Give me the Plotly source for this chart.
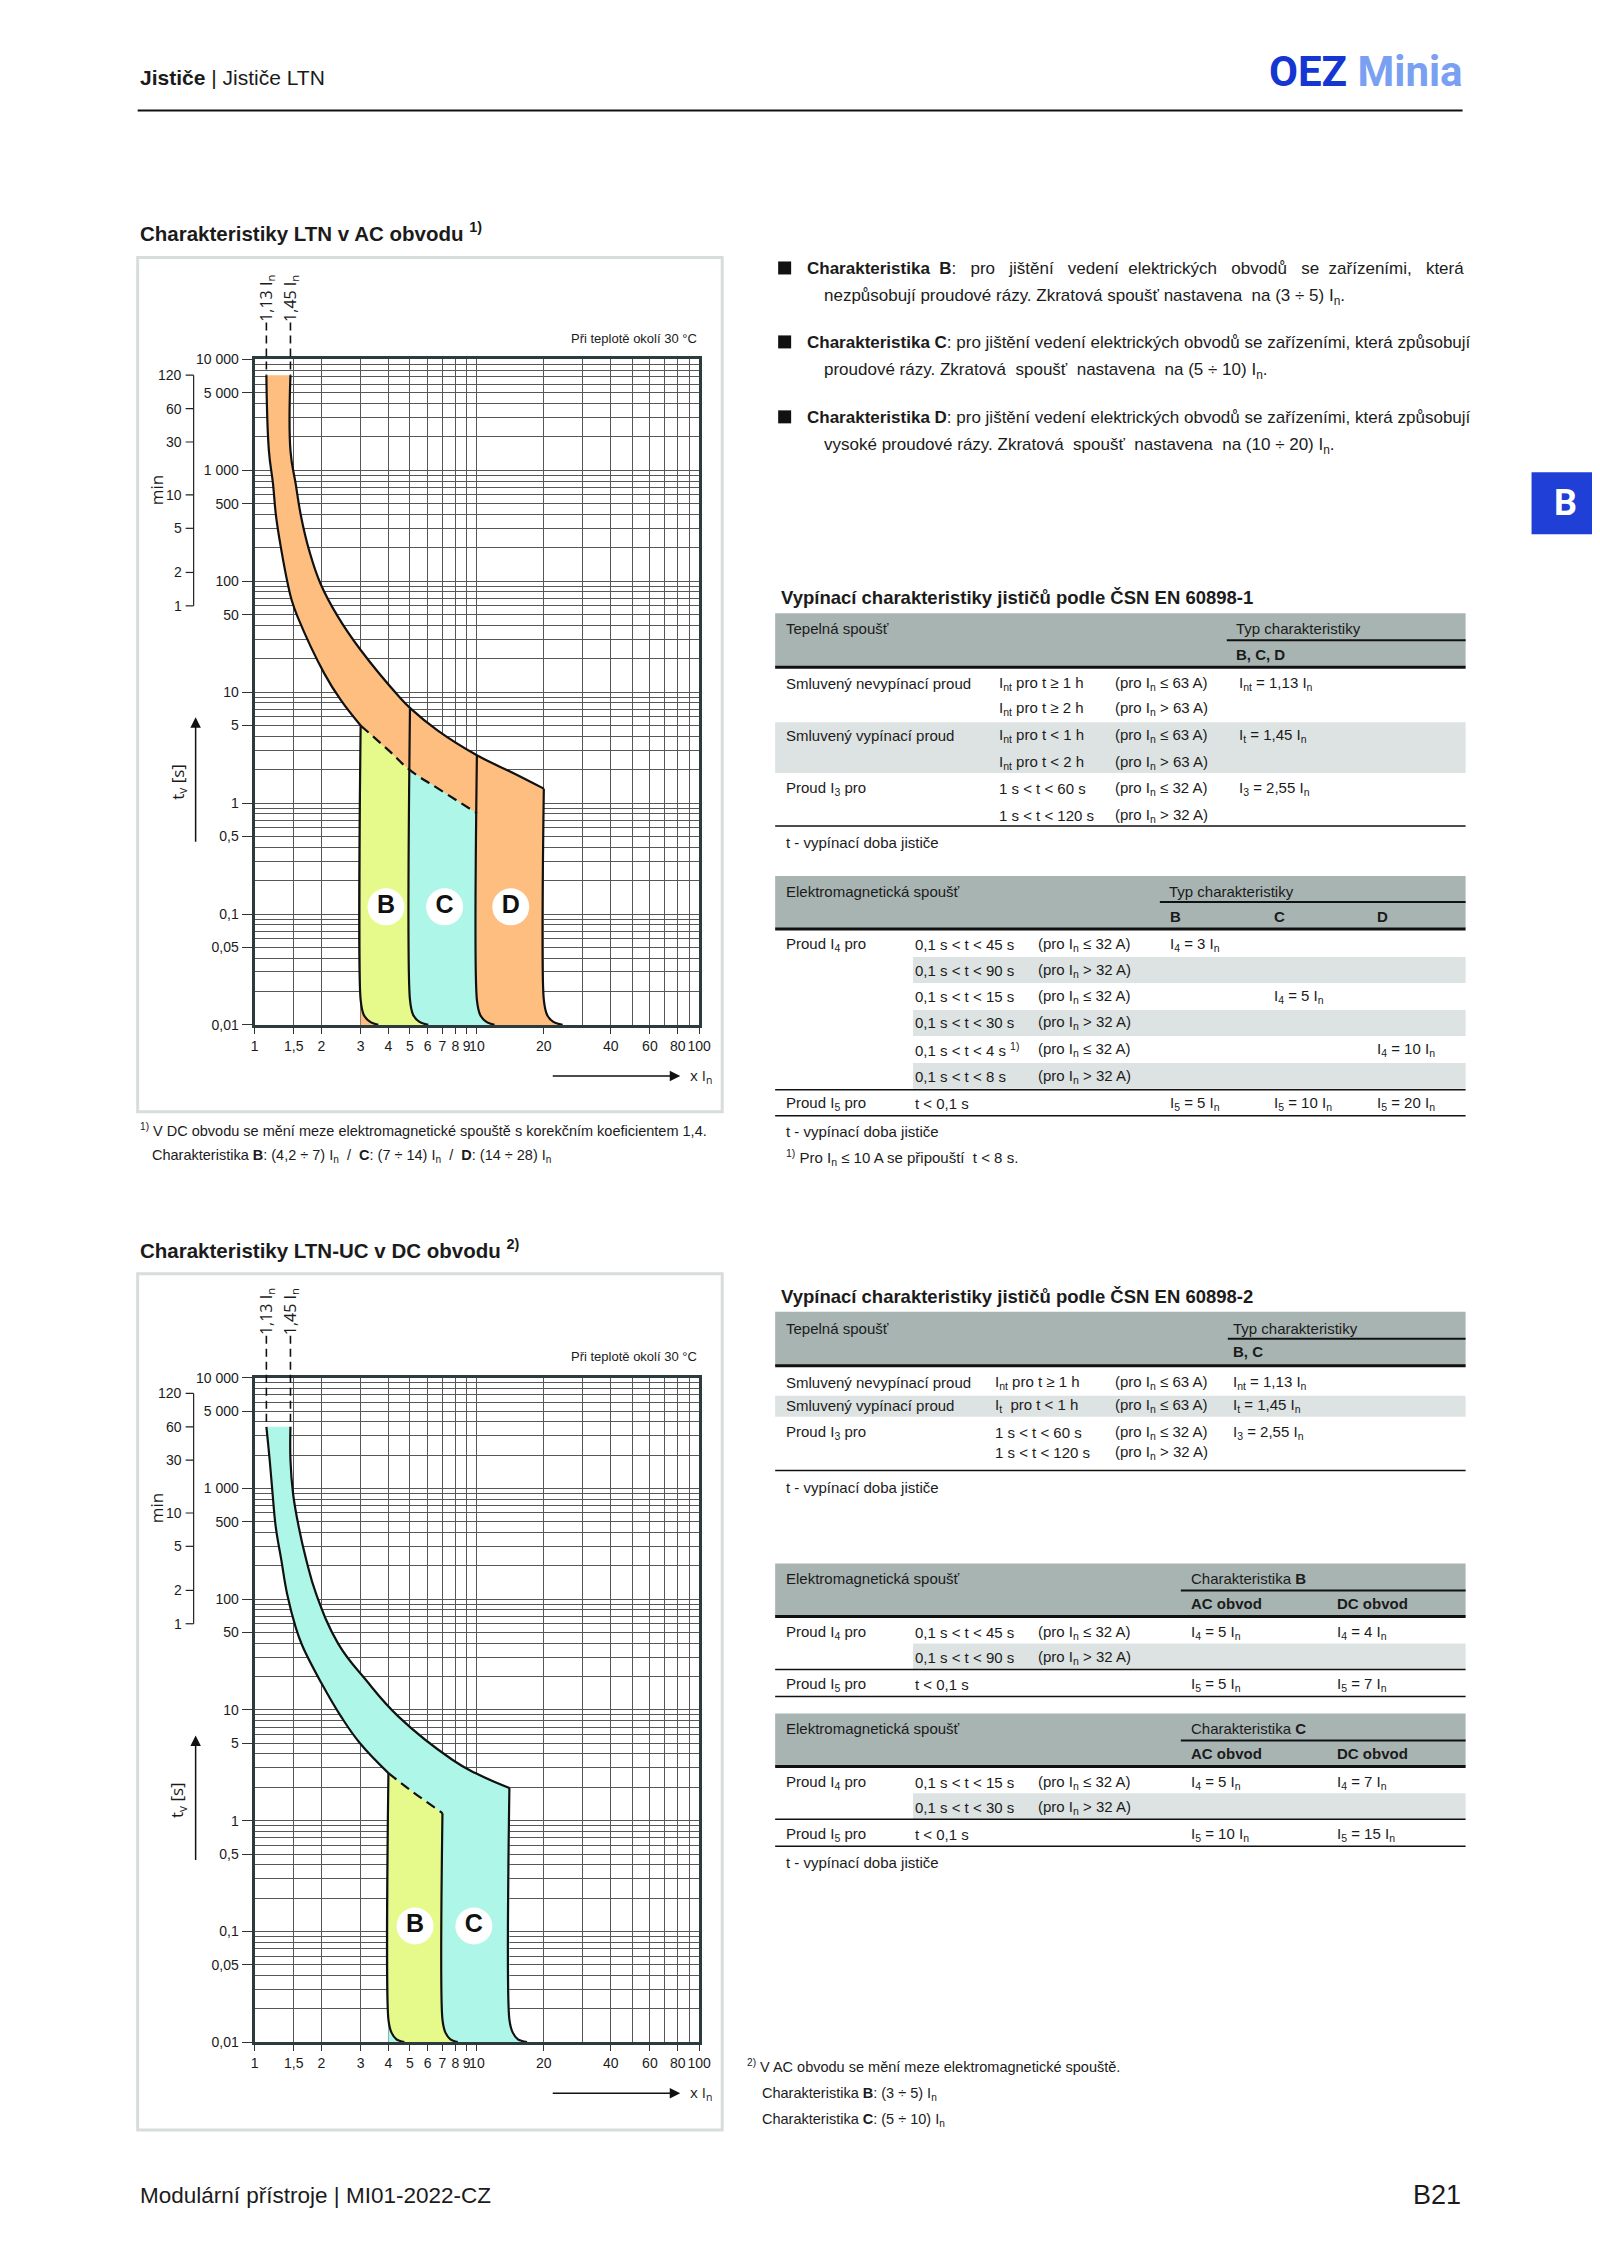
import math
import plotly.graph_objects as go

# page is 1600x2263; the browser adds an 8 px body margin, so the figure is 16 px smaller
PAGE_W, PAGE_H, OFF = 1600, 2263, 8
W, H = PAGE_W - 2 * OFF, PAGE_H - 2 * OFF
# small empirical correction of the photographed placement
SX, CX, SY, CY = 0.9907, 3.3, 0.9936, 7.4
FONT = "Liberation Sans, Arial, sans-serif"
INK = "#1b1b1b"
GRID = "#575757"
FRAME = "#2c3b3d"
ORANGE = "#FDBE80"
YELLOW = "#E6FA8C"
CYAN = "#AEF7E8"
NB = "\u00a0"

# ---------------- chart values ----------------
# x = multiple of In, t = tripping time in seconds
# AC chart
ac_low_x = [1.13, 1.16, 1.21, 1.25, 1.32, 1.41, 1.47, 1.56, 2.06, 2.44, 3.0]
ac_low_t = [7200, 1500, 760, 380, 190, 95, 67, 48, 14.7, 8.5, 5.0]
ac_dash_x = [3.0, 4.0, 5.0, 6.7, 10.0]
ac_dash_t = [5.0, 3.0, 1.98, 1.35, 0.81]
ac_up_x = [1.45, 1.45, 1.53, 1.62, 1.76, 1.98, 2.37, 3.0, 4.47, 5.04, 6.67, 10.0, 14.7, 20.0]
ac_up_t = [7200, 1500, 760, 380, 190, 95, 48, 24, 9.1, 7.1, 4.5, 2.7, 1.85, 1.35]
ac_b_left_x = [3.0, 3.0, 3.1, 3.3, 3.6]
ac_b_left_t = [5.0, 0.0168, 0.0123, 0.0107, 0.01]
ac_b_right_x = [5.0, 5.0, 5.17, 5.5, 6.04]
ac_b_right_t = [7.1, 0.0168, 0.0123, 0.0107, 0.01]
ac_c_right_x = [10.0, 10.0, 10.35, 11.0, 12.0]
ac_c_right_t = [2.7, 0.0168, 0.0123, 0.0107, 0.01]
ac_d_right_x = [20.0, 20.0, 20.7, 22.0, 24.3]
ac_d_right_t = [1.35, 0.0168, 0.0123, 0.0107, 0.01]
ac_label_x = [3.9, 7.16, 14.2]
ac_label_t = [0.116, 0.116, 0.116]
ac_labels = ["B", "C", "D"]

# DC chart
dc_low_x = [1.13, 1.17, 1.205, 1.245, 1.32, 1.40, 1.53, 1.64, 2.0, 2.45, 2.98, 4.0]
dc_low_t = [3600, 1786, 895, 449, 224, 112, 56, 38, 17.4, 8.7, 5.0, 2.69]
dc_dash_x = [4.0, 5.0, 7.0]
dc_dash_t = [2.69, 1.9, 1.17]
dc_up_x = [1.45, 1.45, 1.49, 1.58, 1.71, 1.89, 2.38, 3.17, 4.44, 7.75, 9.84, 14.0]
dc_up_t = [3600, 1800, 895, 449, 224, 112, 39.5, 18.6, 8.7, 3.55, 2.69, 1.97]
dc_b_left_x = [4.0, 4.0, 4.13, 4.35, 4.72]
dc_b_left_t = [2.69, 0.016, 0.0122, 0.0106, 0.01]
dc_b_right_x = [7.0, 7.0, 7.22, 7.6, 8.2]
dc_b_right_t = [1.17, 0.016, 0.0122, 0.0106, 0.01]
dc_c_right_x = [14.0, 14.0, 14.5, 15.3, 16.8]
dc_c_right_t = [1.97, 0.016, 0.0122, 0.0106, 0.01]
dc_label_x = [5.27, 9.69]
dc_label_t = [0.112, 0.112]
dc_labels = ["B", "C"]

# axes ticks
x_tick_vals = [1, 1.5, 2, 3, 4, 5, 6, 7, 8, 9, 10, 20, 40, 60, 80, 100]
x_tick_text = ["1", "1,5", "2", "3", "4", "5", "6", "7", "8", "9", "10", "20", "40", "60", "80", "100"]
x_grid_extra = [30, 50, 70, 90]
y_tick_vals = [0.01, 0.05, 0.1, 0.5, 1, 5, 10, 50, 100, 500, 1000, 5000, 10000]
y_tick_text = ["0,01", "0,05", "0,1", "0,5", "1", "5", "10", "50", "100", "500", "1 000", "5 000", "10 000"]
y_grid_extra = [m * 10.0 ** k for k in range(-2, 4) for m in (2, 3, 4, 6, 7, 8, 9)]
min_tick_sec = [7200, 3600, 1800, 600, 300, 120, 60]
min_tick_text = ["120", "60", "30", "10", "5", "2", "1"]
ac_guides = [1.13, 1.45]
guide_text = ["1,13 I<sub>n</sub>", "1,45 I<sub>n</sub>"]

# texts
S2, S3 = " " + NB, " " + NB + NB   # widened gaps (justified line)
bullets = [
    ("<b>Charakteristika" + S2 + "B</b>:" + S3 + "pro" + S3 + "jištění" + S3 + "vedení" + S2 +
     "elektrických" + S3 + "obvodů" + S3 + "se" + S2 + "zařízeními," + S3 + "která",
     "nezpůsobují proudové rázy. Zkratová spoušť nastavena  na (3 ÷ 5) I<sub>n</sub>."),
    ("<b>Charakteristika C</b>: pro jištění vedení elektrických obvodů se zařízeními, která způsobují",
     "proudové rázy. Zkratová  spoušť  nastavena  na (5 ÷ 10) I<sub>n</sub>."),
    ("<b>Charakteristika D</b>: pro jištění vedení elektrických obvodů se zařízeními, která způsobují",
     "vysoké proudové rázy. Zkratová  spoušť  nastavena  na (10 ÷ 20) I<sub>n</sub>."),
]
In = "I<sub>n</sub>"
t1_rows = [
    ("Smluvený nevypínací proud", "I<sub>nt</sub> pro t ≥ 1 h", f"(pro {In} ≤ 63 A)", f"I<sub>nt</sub> = 1,13 {In}"),
    ("", "I<sub>nt</sub> pro t ≥ 2 h", f"(pro {In} > 63 A)", ""),
    ("Smluvený vypínací proud", "I<sub>nt</sub> pro t < 1 h", f"(pro {In} ≤ 63 A)", f"I<sub>t</sub> = 1,45 {In}"),
    ("", "I<sub>nt</sub> pro t < 2 h", f"(pro {In} > 63 A)", ""),
    ("Proud I<sub>3</sub> pro", "1 s < t < 60 s", f"(pro {In} ≤ 32 A)", f"I<sub>3</sub> = 2,55 {In}"),
    ("", "1 s < t < 120 s", f"(pro {In} > 32 A)", ""),
]
t2_rows = [
    ("Proud I<sub>4</sub> pro", "0,1 s < t < 45 s", f"(pro {In} ≤ 32 A)", f"I<sub>4</sub> = 3 {In}", "", ""),
    ("", "0,1 s < t < 90 s", f"(pro {In} > 32 A)", "", "", ""),
    ("", "0,1 s < t < 15 s", f"(pro {In} ≤ 32 A)", "", f"I<sub>4</sub> = 5 {In}", ""),
    ("", "0,1 s < t < 30 s", f"(pro {In} > 32 A)", "", "", ""),
    ("", "0,1 s < t < 4 s <sup>1)</sup>", f"(pro {In} ≤ 32 A)", "", "", f"I<sub>4</sub> = 10 {In}"),
    ("", "0,1 s < t < 8 s", f"(pro {In} > 32 A)", "", "", ""),
    ("Proud I<sub>5</sub> pro", "t < 0,1 s", "", f"I<sub>5</sub> = 5 {In}", f"I<sub>5</sub> = 10 {In}", f"I<sub>5</sub> = 20 {In}"),
]
t3_rows = [
    ("Smluvený nevypínací proud", "I<sub>nt</sub> pro t ≥ 1 h", f"(pro {In} ≤ 63 A)", f"I<sub>nt</sub> = 1,13 {In}"),
    ("Smluvený vypínací proud", "I<sub>t</sub>  pro t < 1 h", f"(pro {In} ≤ 63 A)", f"I<sub>t</sub> = 1,45 {In}"),
    ("Proud I<sub>3</sub> pro", "1 s < t < 60 s", f"(pro {In} ≤ 32 A)", f"I<sub>3</sub> = 2,55 {In}"),
    ("", "1 s < t < 120 s", f"(pro {In} > 32 A)", ""),
]
t4_rows = [
    ("Proud I<sub>4</sub> pro", "0,1 s < t < 45 s", f"(pro {In} ≤ 32 A)", f"I<sub>4</sub> = 5 {In}", f"I<sub>4</sub> = 4 {In}"),
    ("", "0,1 s < t < 90 s", f"(pro {In} > 32 A)", "", ""),
    ("Proud I<sub>5</sub> pro", "t < 0,1 s", "", f"I<sub>5</sub> = 5 {In}", f"I<sub>5</sub> = 7 {In}"),
]
t5_rows = [
    ("Proud I<sub>4</sub> pro", "0,1 s < t < 15 s", f"(pro {In} ≤ 32 A)", f"I<sub>4</sub> = 5 {In}", f"I<sub>4</sub> = 7 {In}"),
    ("", "0,1 s < t < 30 s", f"(pro {In} > 32 A)", "", ""),
    ("Proud I<sub>5</sub> pro", "t < 0,1 s", "", f"I<sub>5</sub> = 10 {In}", f"I<sub>5</sub> = 15 {In}"),
]

# ---------------- layout helpers (page pixel coordinates) ----------------
PLOT_L, PLOT_R = 254, 699
P1_T, P1_B = 359, 1025
P2_T, P2_B = 1378, 2043


def X(px):
    return ((px - CX) / SX - OFF) / W


def Y(py):
    return 1 - ((py - CY) / SY - OFF) / H


def ypix(t, top, bot):
    return bot - (math.log10(t) + 2) / 6 * (bot - top)


ann = []
shp = []
TS = 15  # table text size


def txt(x, y, s, size=TS, anchor="left", color=INK, angle=0, family=FONT):
    ann.append(dict(x=X(x), y=Y(y), xref="paper", yref="paper", text=s, showarrow=False,
                    xanchor=anchor, yanchor="middle", textangle=angle,
                    font=dict(size=size, color=color, family=family)))


def rect(x0, y0, x1, y1, fill=None, line=None, lw=0):
    shp.append(dict(type="rect", xref="paper", yref="paper", x0=X(x0), x1=X(x1), y0=Y(y0), y1=Y(y1),
                    fillcolor=fill if fill else "rgba(0,0,0,0)",
                    line=dict(color=line if line else "rgba(0,0,0,0)", width=lw), layer="below"))


def hline(x0, x1, y, w=1.5, color="#111"):
    shp.append(dict(type="line", xref="paper", yref="paper", x0=X(x0), x1=X(x1), y0=Y(y), y1=Y(y),
                    line=dict(color=color, width=w)))


def arrow(xt, yt, dx, dy):
    ann.append(dict(x=X(xt), y=Y(yt), xref="paper", yref="paper", ax=dx, ay=dy, text="",
                    showarrow=True, arrowhead=2, arrowsize=1.4, arrowwidth=1.5, arrowcolor="#111"))


fig = go.Figure()


def add_fill(xs, ts, color, xa, ya):
    fig.add_trace(go.Scatter(x=xs, y=ts, mode="lines", fill="toself", fillcolor=color,
                             line=dict(width=0, color=color), xaxis=xa, yaxis=ya,
                             hoverinfo="skip", showlegend=False))


def add_line(xs, ts, xa, ya, dash="solid", width=2.2, smooth=1.2):
    fig.add_trace(go.Scatter(x=xs, y=ts, mode="lines",
                             line=dict(color="#111", width=width, dash=dash, shape="spline", smoothing=smooth),
                             xaxis=xa, yaxis=ya, hoverinfo="skip", showlegend=False))


def add_labels(xs, ts, labels, xa, ya):
    fig.add_trace(go.Scatter(x=xs, y=ts, mode="markers+text", text=[f"<b>{s}</b>" for s in labels],
                             textposition="middle center",
                             textfont=dict(size=25, color="#111", family=FONT),
                             marker=dict(size=37, color="white", line=dict(width=0)),
                             xaxis=xa, yaxis=ya, hoverinfo="skip", showlegend=False))


# ---- AC chart ----
orange_x = ac_low_x + [3.0] + ac_d_right_x[::-1] + ac_up_x[::-1][1:]
orange_t = ac_low_t + [0.01] + ac_d_right_t[::-1] + ac_up_t[::-1][1:]
add_fill(orange_x, orange_t, ORANGE, "x", "y")
b_x = ac_dash_x[:3] + ac_b_right_x[1:] + ac_b_left_x[::-1][:-1]
b_t = ac_dash_t[:3] + ac_b_right_t[1:] + ac_b_left_t[::-1][:-1]
add_fill(b_x, b_t, YELLOW, "x", "y")
c_x = ac_dash_x[2:] + ac_c_right_x[1:] + ac_b_right_x[::-1][:-1]
c_t = ac_dash_t[2:] + ac_c_right_t[1:] + ac_b_right_t[::-1][:-1]
add_fill(c_x, c_t, CYAN, "x", "y")
add_line(ac_low_x, ac_low_t, "x", "y")
add_line(ac_dash_x, ac_dash_t, "x", "y", dash="10px,6px")
add_line(ac_up_x, ac_up_t, "x", "y")
for ex, et in [(ac_b_left_x, ac_b_left_t), (ac_b_right_x, ac_b_right_t),
               (ac_c_right_x, ac_c_right_t), (ac_d_right_x, ac_d_right_t)]:
    add_line(ex, et, "x", "y", smooth=0.8)
add_labels(ac_label_x, ac_label_t, ac_labels, "x", "y")

# ---- DC chart ----
cy_x = dc_low_x + [4.0] + dc_c_right_x[::-1] + dc_up_x[::-1][1:]
cy_t = dc_low_t + [0.01] + dc_c_right_t[::-1] + dc_up_t[::-1][1:]
add_fill(cy_x, cy_t, CYAN, "x2", "y2")
db_x = dc_dash_x + dc_b_right_x[1:] + dc_b_left_x[::-1][:-1]
db_t = dc_dash_t + dc_b_right_t[1:] + dc_b_left_t[::-1][:-1]
add_fill(db_x, db_t, YELLOW, "x2", "y2")
add_line(dc_low_x, dc_low_t, "x2", "y2")
add_line(dc_dash_x, dc_dash_t, "x2", "y2", dash="10px,6px")
add_line(dc_up_x, dc_up_t, "x2", "y2")
for ex, et in [(dc_b_left_x, dc_b_left_t), (dc_b_right_x, dc_b_right_t), (dc_c_right_x, dc_c_right_t)]:
    add_line(ex, et, "x2", "y2", smooth=0.8)
add_labels(dc_label_x, dc_label_t, dc_labels, "x2", "y2")

# ---- axes ----
xcommon = dict(type="log", range=[0, 2], tickvals=x_tick_vals, ticktext=x_tick_text, tickangle=0,
               ticks="outside", ticklen=6, tickcolor="#333", tickwidth=1,
               tickfont=dict(family=FONT, size=14, color=INK),
               showgrid=True, gridcolor=GRID, gridwidth=1,
               minor=dict(tickvals=x_grid_extra, showgrid=True, gridcolor=GRID, gridwidth=1, ticks=""),
               showline=True, linecolor=FRAME, linewidth=3, mirror=True, zeroline=False, fixedrange=True)
ycommon = dict(type="log", range=[-2, 4], tickvals=y_tick_vals, ticktext=y_tick_text,
               ticks="outside", ticklen=10, tickcolor="#333", tickwidth=1,
               tickfont=dict(family=FONT, size=14, color=INK),
               showgrid=True, gridcolor=GRID, gridwidth=1,
               minor=dict(tickvals=y_grid_extra, showgrid=True, gridcolor=GRID, gridwidth=1, ticks=""),
               showline=True, linecolor=FRAME, linewidth=3, mirror=True, zeroline=False, fixedrange=True)

# ---- chart decorations ----
for (yref, top, bot, box_t, box_b, guide_top, guide_t, title) in [
        ("y", P1_T, P1_B, 257, 1112, 322, 7200,
         "<b>Charakteristiky LTN v AC obvodu <sup>1)</sup></b>"),
        ("y2", P2_T, P2_B, 1274, 2131, 1336, 3600,
         "<b>Charakteristiky LTN-UC v DC obvodu <sup>2)</sup></b>")]:
    xref = "x" if yref == "y" else "x2"
    txt(137, box_t - 25, title, size=20.5)
    rect(137, box_t, 722, box_b, line="#d6dddc", lw=3)
    # minutes scale
    shp.append(dict(type="line", xref="paper", yref=yref, x0=X(193), x1=X(193),
                    y0=min_tick_sec[-1], y1=min_tick_sec[0], line=dict(color="#222", width=1.2)))
    for s, lab in zip(min_tick_sec, min_tick_text):
        shp.append(dict(type="line", xref="paper", yref=yref, x0=X(185), x1=X(193), y0=s, y1=s,
                        line=dict(color="#222", width=1.2)))
        ann.append(dict(x=X(183), y=math.log10(s), xref="paper", yref=yref, text=lab, showarrow=False,
                        xanchor="right", yanchor="middle", font=dict(size=14, color=INK, family=FONT)))
    mid_min = (ypix(7200, top, bot) + ypix(60, top, bot)) / 2
    txt(156, mid_min, "min", size=17, anchor="center", angle=-90, family="Open Sans, sans-serif")
    # guides 1.13 / 1.45
    for gx, gt in zip(ac_guides, guide_text):
        shp.append(dict(type="line", xref=xref, yref="paper", x0=gx, x1=gx,
                        y0=Y(guide_top), y1=Y(ypix(guide_t, top, bot)),
                        line=dict(color="#111", width=1.6, dash="8px,5px")))
        ann.append(dict(x=math.log10(gx), y=Y(guide_top - 24), xref=xref, yref="paper", text=gt,
                        showarrow=False, xanchor="center", yanchor="middle", textangle=-90,
                        font=dict(size=16, color=INK, family="Open Sans, sans-serif")))
    txt(PLOT_R, top - 21, "Při teplotě okolí 30 °C", size=13, anchor="right")
    # t_v axis arrow + label
    arrow(195, top + 358, 0, 126)
    txt(177, top + 423, "t<sub>v</sub> [s]", size=17, anchor="center", angle=-90, family="Open Sans, sans-serif")
    # x In arrow + label
    arrow(680, bot + 51, -129, 0)
    txt(688, bot + 51, "x I<sub>n</sub>", size=15, anchor="left", family="Open Sans, sans-serif")

# footnote 1
txt(137, 1130, "<sup>1)</sup> V DC obvodu se mění meze elektromagnetické spouště s korekčním koeficientem 1,4.", size=14.5)
txt(149, 1156, f"Charakteristika <b>B</b>: (4,2 ÷ 7) {In}  /  <b>C</b>: (7 ÷ 14) {In}  /  <b>D</b>: (14 ÷ 28) {In}", size=14.5)

# ---- header / footer ----
txt(137, 77, "<b>Jističe</b> | Jističe LTN", size=21)
txt(1465, 71, "<b><span style='color:#1636d2'>OEZ</span> <span style='color:#7aa0f2'>Minia</span></b>",
    size=42, anchor="right", family="Roboto, sans-serif")
hline(137, 1463, 110, w=2, color="#111")
txt(137, 2196, "Modulární přístroje | MI01-2022-CZ", size=22.5)
txt(1463, 2196, "B21", size=27, anchor="right")
rect(1532, 472, 1610, 534, fill="#1f3fd6")
txt(1566, 503, "<b>B</b>", size=36, anchor="center", color="white", family="Roboto, sans-serif")

# ---- bullets ----
for (l1, l2), yb in zip(bullets, [268, 342, 417]):
    rect(778, yb - 7, 791, yb + 6, fill="#111")
    txt(805, yb, l1, size=17)
    txt(822, yb + 29, l2, size=17)

HDR = "#a8b4b2"
ROW = "#dde3e2"
TL, TR = 775, 1466

# ---- table 1 ----
txt(779, 597, "<b>Vypínací charakteristiky jističů podle ČSN EN 60898-1</b>", size=18.5)
rect(TL, 613, TR, 667, fill=HDR)
txt(784, 628, "Tepelná spoušť")
txt(1234, 628, "Typ charakteristiky")
hline(1227, TR, 640, w=2)
txt(1234, 654, "<b>B, C, D</b>")
hline(TL, TR, 667, w=3)
rect(TL, 722, TR, 773, fill=ROW)
for row, yy in zip(t1_rows, [683, 708, 735, 762, 788, 815]):
    for s, xx in zip(row, [784, 997, 1113, 1237]):
        if s:
            txt(xx, yy, s)
hline(TL, TR, 826)
txt(784, 842, "t - vypínací doba jističe")

# ---- table 2 ----
rect(TL, 876, TR, 928, fill=HDR)
txt(784, 891, "Elektromagnetická spoušť")
txt(1167, 891, "Typ charakteristiky")
hline(1160, TR, 902, w=2)
for s, xx in zip(["B", "C", "D"], [1168, 1272, 1375]):
    txt(xx, 917, f"<b>{s}</b>")
hline(TL, TR, 929, w=3)
for y0 in [957, 1010, 1063]:
    rect(913, y0, TR, y0 + 26, fill=ROW)
for row, yy in zip(t2_rows, [945, 971, 997, 1023, 1050, 1077, 1104]):
    for s, xx in zip(row, [784, 913, 1036, 1168, 1272, 1375]):
        if s:
            txt(xx, yy, s)
hline(TL, TR, 1090)
hline(TL, TR, 1116)
txt(784, 1132, "t - vypínací doba jističe")
txt(784, 1158, f"<sup>1)</sup> Pro {In} ≤ 10 A se připouští  t < 8 s.")

# ---- table 3 ----
txt(779, 1297, "<b>Vypínací charakteristiky jističů podle ČSN EN 60898-2</b>", size=18.5)
rect(TL, 1312, TR, 1366, fill=HDR)
txt(784, 1329, "Tepelná spoušť")
txt(1231, 1329, "Typ charakteristiky")
hline(1228, TR, 1339, w=2)
txt(1231, 1352, "<b>B, C</b>")
hline(TL, TR, 1366, w=3)
rect(TL, 1396, TR, 1417, fill=ROW)
for row, yy in zip(t3_rows, [1383, 1406, 1433, 1453]):
    for s, xx in zip(row, [784, 993, 1113, 1231]):
        if s:
            txt(xx, yy, s)
hline(TL, TR, 1471)
txt(784, 1488, "t - vypínací doba jističe")

# ---- tables 4 and 5 ----
for rows, y0, char in [(t4_rows, 1564, "B"), (t5_rows, 1714, "C")]:
    rect(TL, y0, TR, y0 + 53, fill=HDR)
    txt(784, y0 + 15, "Elektromagnetická spoušť")
    txt(1189, y0 + 15, f"Charakteristika <b>{char}</b>")
    hline(1181, TR, y0 + 27, w=2)
    txt(1189, y0 + 40, "<b>AC obvod</b>")
    txt(1335, y0 + 40, "<b>DC obvod</b>")
    hline(TL, TR, y0 + 53, w=3)
    rect(913, y0 + 80, TR, y0 + 106, fill=ROW)
    for row, dy in zip(rows, [69, 94, 121]):
        for s, xx in zip(row, [784, 913, 1036, 1189, 1335]):
            if s:
                txt(xx, y0 + dy, s)
    hline(TL, TR, y0 + 106)
    hline(TL, TR, y0 + 133)
txt(784, 1863, "t - vypínací doba jističe")

# footnote 2
txt(745, 2067, "<sup>2)</sup> V AC obvodu se mění meze elektromagnetické spouště.", size=14.5)
txt(760, 2095, f"Charakteristika <b>B</b>: (3 ÷ 5) {In}", size=14.5)
txt(760, 2121, f"Charakteristika <b>C</b>: (5 ÷ 10) {In}", size=14.5)

fig.update_layout(
    width=W, height=H, margin=dict(l=0, r=0, t=0, b=0),
    paper_bgcolor="white", plot_bgcolor="white", showlegend=False,
    font=dict(family=FONT, color=INK),
    annotations=ann, shapes=shp,
    xaxis=dict(domain=[X(PLOT_L), X(PLOT_R)], anchor="y", **xcommon),
    yaxis=dict(domain=[Y(P1_B), Y(P1_T)], anchor="x", **ycommon),
    xaxis2=dict(domain=[X(PLOT_L), X(PLOT_R)], anchor="y2", **xcommon),
    yaxis2=dict(domain=[Y(P2_B), Y(P2_T)], anchor="x2", **ycommon),
)
fig.write_html("out.html", config={"displayModeBar": False})
